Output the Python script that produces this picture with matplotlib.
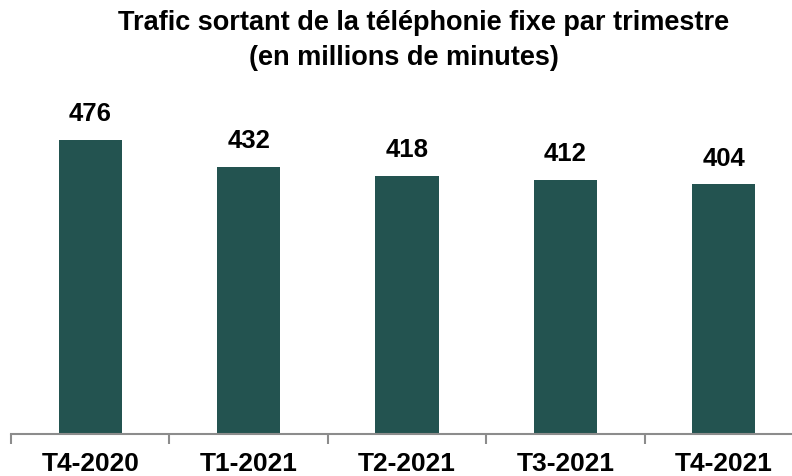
import numpy as np
import matplotlib.pyplot as plt

# donnees
trimestres = ['T4-2020', 'T1-2021', 'T2-2021', 'T3-2021', 'T4-2021']
trafic = [476, 432, 418, 412, 404]

couleur_barre = '#235350'

plt.rcParams['font.family'] = ['Liberation Sans', 'DejaVu Sans']

fig = plt.figure(figsize=(7.92, 4.76), dpi=100)
# axe : de x=11 px a x=803 px, base a y=434 px
ax = fig.add_axes([11 / 792, 42 / 476, 792 / 792, 370.6 / 476])

x = np.arange(len(trimestres))
barres = ax.bar(x, trafic, width=0.4, color=couleur_barre)

for xi, v in zip(x, trafic):
    ax.annotate('{}'.format(v), (xi, v), xytext=(0, 10), textcoords='offset points',
                ha='center', va='bottom', fontsize=18.5, fontweight='bold')

ax.set_xlim(-0.5, len(trimestres) - 0.5)
ax.set_ylim(0, 600)

# ticks entre les categories
ax.set_xticks(np.arange(len(trimestres) + 1) - 0.5)
ax.set_xticklabels([])
ax.set_xticks(x, minor=True)
ax.set_xticklabels(trimestres, minor=True, fontsize=19, fontweight='bold')
ax.tick_params(axis='x', which='major', length=7, width=1.5, color='#8c8c8c', direction='out')
ax.tick_params(axis='x', which='minor', length=0, pad=13)

ax.set_yticks([])
for s in ['top', 'right', 'left']:
    ax.spines[s].set_visible(False)
ax.spines['bottom'].set_color('#8c8c8c')
ax.spines['bottom'].set_linewidth(1.5)

fig.text(424 / 792, 1 - 23 / 476, 'Trafic sortant de la téléphonie fixe par trimestre',
         ha='center', va='center', fontsize=19.5, fontweight='bold')
fig.text(404 / 792, 1 - 58 / 476, '(en millions de minutes)',
         ha='center', va='center', fontsize=19.5, fontweight='bold')

fig.savefig('out.png', dpi=100)
